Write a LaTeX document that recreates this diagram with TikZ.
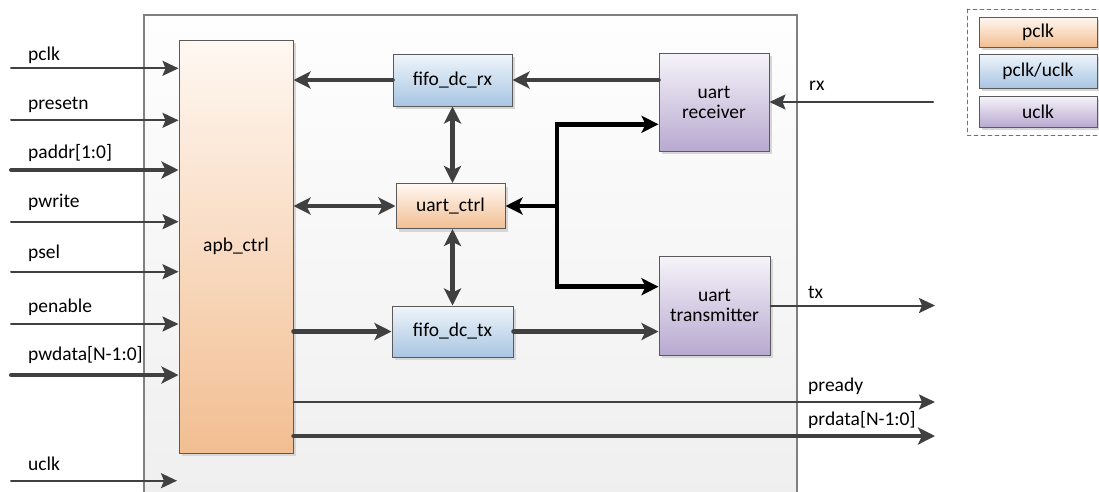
\documentclass[tikz,border=0pt]{standalone}
\usepackage{fontspec}
\setmainfont{Carlito}
\usetikzlibrary{arrows.meta,shadows}
\definecolor{ln}{HTML}{404040}
\definecolor{bordc}{HTML}{5A5A5A}
\definecolor{orT}{HTML}{FFF8F2}
\definecolor{orB}{HTML}{F2BE92}
\definecolor{blT}{HTML}{EFF5FB}
\definecolor{blB}{HTML}{A8C5E2}
\definecolor{puT}{HTML}{F6F4FA}
\definecolor{puB}{HTML}{B8A9D0}
\definecolor{outT}{HTML}{FEFEFE}
\definecolor{outB}{HTML}{EFEFEF}
\begin{document}
\begin{tikzpicture}[x=1pt,y=-1pt, line cap=round,
  font=\fontsize{19.5}{22}\selectfont,
  blk/.style={draw=bordc, line width=1pt, align=center, inner sep=0pt,
    drop shadow={shadow xshift=3pt,shadow yshift=-3pt,fill=black!16,opacity=1}},
  orng/.style={blk, top color=orT, bottom color=orB},
  blue/.style={blk, top color=blT, bottom color=blB},
  purp/.style={blk, top color=puT, bottom color=puB},
  thinarr/.style={draw=ln, line width=2pt, -{Stealth[length=16pt,width=15pt,inset=3pt]}},
  thickarr/.style={draw=ln, line width=4.5pt, -{Stealth[length=17pt,width=17pt,inset=4pt]}},
  thickdbl/.style={draw=ln, line width=4.5pt, {Stealth[length=17pt,width=17pt,inset=4pt]}-{Stealth[length=17pt,width=17pt,inset=4pt]}},
  busline/.style={draw=black, line width=4.5pt},
  busarr/.style={busline, -{Stealth[length=17pt,width=17pt,inset=4pt]}},
  lbl/.style={anchor=west, inner sep=0pt}
]
\useasboundingbox (0,0) rectangle (1099,491);
\fill[white] (0,0) rectangle (1099,491);

% outer module
\node[draw=black!50, line width=1.2pt, top color=outT, bottom color=outB,
  minimum width=653pt, minimum height=485pt, inner sep=0pt] (core) at (470.5,257.5) {};

% blocks
\node[orng, minimum width=114pt, minimum height=413pt] (apb) at (236,246.5) {apb\_ctrl};
\node[blue, minimum width=119pt, minimum height=52pt] (frx) at (452.5,80) {fifo\_dc\_rx};
\node[orng, minimum width=109pt, minimum height=45pt] (uctl) at (450.5,206) {uart\_ctrl};
\node[blue, minimum width=121pt, minimum height=51pt] (ftx) at (452.5,331.5) {fifo\_dc\_tx};
\node[purp, minimum width=110pt, minimum height=98pt] (rcv) at (714,102) {uart\\[-2pt]receiver};
\node[purp, minimum width=111pt, minimum height=99pt] (trm) at (714.5,305.5) {uart\\[-2pt]transmitter};

% legend
\draw[draw=black!55, line width=0.8pt, dash pattern=on 4pt off 3pt] (967,9) rectangle (1112,135);
\node[orng, minimum width=118pt, minimum height=30pt] (lg1) at (1038,32) {pclk};
\node[blue, minimum width=118pt, minimum height=34pt] (lg2) at (1038,71) {pclk/uclk};
\node[purp, minimum width=118pt, minimum height=31pt] (lg3) at (1038,111.5) {uclk};

% input ports
\coordinate (i1) at (11,68.3);
\coordinate (i2) at (11,120.3);
\coordinate (i3) at (11,170);
\coordinate (i4) at (11,221.7);
\coordinate (i5) at (11,271.7);
\coordinate (i6) at (11,324);
\coordinate (i7) at (11,375);
\coordinate (i8) at (11,480.7);
\coordinate (i8e) at (177,480.7);

\node[lbl] (l1) at (28,55) {pclk};
\node[lbl] (l2) at (28,105) {presetn};
\node[lbl] (l3) at (28,153) {paddr[1:0]};
\node[lbl] (l4) at (28,202) {pwrite};
\node[lbl] (l5) at (28,253) {psel};
\node[lbl] (l6) at (28,307) {penable};
\node[lbl] (l7) at (28,355) {pwdata[N-1:0]};
\node[lbl] (l8) at (28,464) {uclk};

\draw[thinarr] (i1) -- (i1 -| apb.west);
\draw[thinarr] (i2) -- (i2 -| apb.west);
\draw[thickarr, line width=4pt] (i3) -- (i3 -| apb.west);
\draw[thinarr] (i4) -- (i4 -| apb.west);
\draw[thinarr] (i5) -- (i5 -| apb.west);
\draw[thinarr] (i6) -- (i6 -| apb.west);
\draw[thickarr, line width=4pt] (i7) -- (i7 -| apb.west);
\draw[thinarr] (i8) -- (i8e);

% output ports
\coordinate (orx) at (933,102);
\coordinate (otx) at (935,305.5);
\coordinate (ordy) at (935,402);
\coordinate (odat) at (935,436);
\node[lbl] (lrx) at (809,86) {rx};
\node[lbl] (ltx) at (808,292) {tx};
\node[lbl] (lrdy) at (808,386) {pready};
\node[lbl] (ldat) at (808,420) {prdata[N-1:0]};

\draw[thinarr] (orx) -- (orx -| rcv.east);
\draw[thinarr] (trm.east) -- (otx);
\draw[thinarr] (apb.east |- ordy) -- (ordy);
\draw[thickarr] (apb.east |- odat) -- (odat);

% internal connections
\draw[thickarr] (frx.west) -- (frx.west -| apb.east);
\draw[thickarr] (rcv.west |- frx.east) -- (frx.east);
\draw[thickdbl] (uctl.west) -- (uctl.west -| apb.east);
\draw[thickdbl] (frx.south) -- (frx.south |- uctl.north);
\draw[thickdbl] (frx.south |- uctl.south) -- (ftx.north);
\draw[thickarr] (apb.east |- ftx.west) -- (ftx.west);
\draw[thickarr] (ftx.east) -- (ftx.east -| trm.west);

% bus
\coordinate (bt) at (557,124.3);
\coordinate (bm) at (557,206);
\coordinate (bb) at (557,286.7);
\draw[busline, line cap=butt] ([yshift=2.25pt]bt) -- ([yshift=-2.25pt]bb);
\draw[busarr, line cap=butt] ([xshift=-2.25pt]bt) -- (bt -| rcv.west);
\draw[busarr, line cap=butt] ([xshift=-2.25pt]bb) -- (bb -| trm.west);
\draw[busarr, line cap=butt] (bm) -- (uctl.east);
\end{tikzpicture}
\end{document}
